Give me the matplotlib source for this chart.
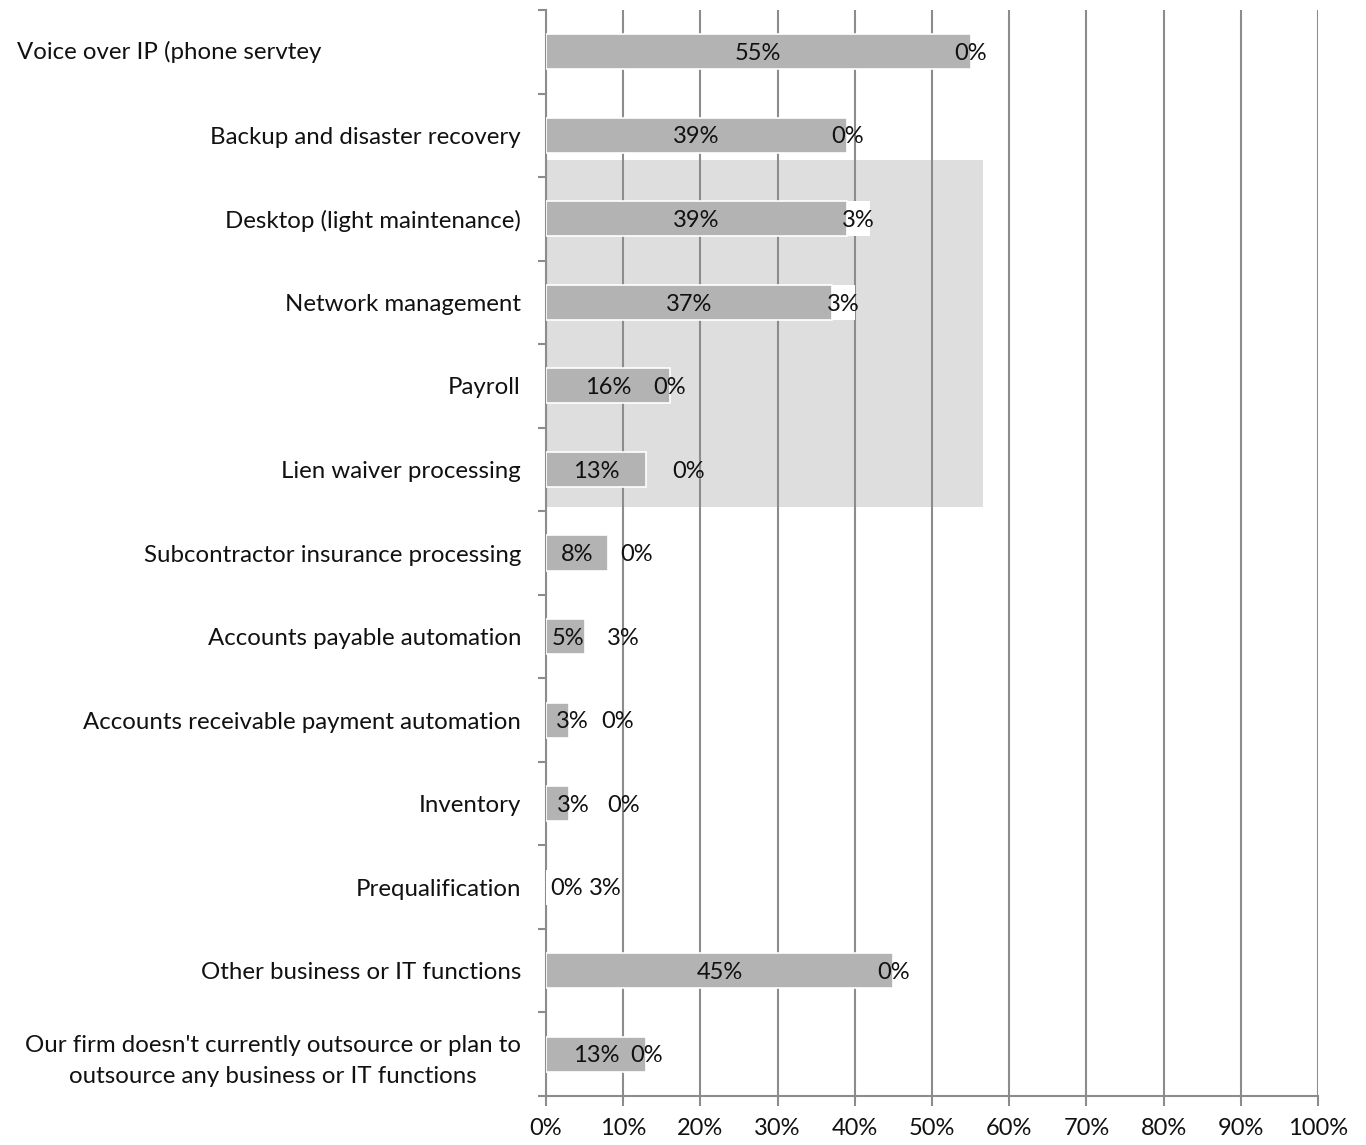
import matplotlib
matplotlib.use("Agg")
import matplotlib.pyplot as plt
from matplotlib.patches import Rectangle
import numpy as np

categories = [
    "Voice over IP (phone servtey",
    "Backup and disaster recovery",
    "Desktop (light maintenance)",
    "Network management",
    "Payroll",
    "Lien waiver processing",
    "Subcontractor insurance processing",
    "Accounts payable automation",
    "Accounts receivable payment automation",
    "Inventory",
    "Prequalification",
    "Other business or IT functions",
    "Our firm doesn't currently outsource or plan to\noutsource any business or IT functions",
]
outsourced = [55, 39, 39, 37, 16, 13, 8, 5, 3, 3, 0, 45, 13]
plan_to = [0, 0, 3, 3, 0, 0, 0, 3, 0, 0, 3, 0, 0]
xtick_values = list(range(0, 101, 10))
xtick_labels = [f"{v}%" for v in xtick_values]

# label nudges (in % units), as placed in the original
nudge2 = [0, 0, 0, 0, 0, 5.5, 3.7, 3.5, 6.3, 7.0, 6.2, 0, 0]
nudge1 = [0, 0, 0, 0, 0, 0, 0, 0.4, 1.9, 2.0, 2.7, 0, 0]

FONT = "Lato"
plt.rcParams["font.family"] = [FONT, "DejaVu Sans"]

fig = plt.figure(figsize=(13.66, 11.45), dpi=100)
ax = fig.add_axes([546/1366, 1 - 1096/1145, (1318 - 546)/1366, (1096 - 10)/1145])

n = len(categories)
y = np.arange(n)
bar_h = 0.42
grid_c = "#8c8c8c"
txt_c = "#111111"

ax.set_xlim(0, 100)
ax.set_ylim(n - 0.5, -0.5)

# light gray background panel seen in the original
ax.add_patch(Rectangle((0, 1.3), 56.6, 4.15, facecolor="#dedede", edgecolor="none", zorder=0.5))

ax.set_xticks(xtick_values)
ax.set_xticklabels(xtick_labels)
ax.xaxis.grid(True, color=grid_c, linewidth=1.5, zorder=1)
ax.set_axisbelow(True)

ax.barh(y, outsourced, height=bar_h, color="#b3b3b3", edgecolor="white", linewidth=1.2, zorder=3)
ax.barh(y, plan_to, left=outsourced, height=bar_h, color="white", edgecolor="none", zorder=3)

lab_fs = 17
cat_fs = 17.3
for i in range(n):
    x1 = outsourced[i] / 2 + nudge1[i]
    ax.text(x1, y[i] + 0.02, f"{outsourced[i]}%", ha="center", va="center", fontsize=lab_fs, color=txt_c, zorder=5)
    x2 = outsourced[i] + plan_to[i] / 2 + nudge2[i]
    ax.text(x2, y[i] + 0.02, f"{plan_to[i]}%", ha="center", va="center", fontsize=lab_fs, color=txt_c, zorder=5)

# y axis: category labels at centers, ticks at boundaries
ax.set_yticks(y)
ylabels = [""] + categories[1:]
ax.set_yticklabels(ylabels, fontsize=cat_fs, multialignment="center", linespacing=1.55)
ax.tick_params(axis="y", length=0, pad=18)
ax.set_yticks(np.arange(-0.5, n, 1), minor=True)
ax.tick_params(axis="y", which="minor", length=6, color=grid_c, width=1.5)
fig.text(17/1366, 1 - 52/1145, categories[0], ha="left", va="center", fontsize=cat_fs, color=txt_c)

ax.tick_params(axis="x", length=7, color=grid_c, width=1.5, labelsize=lab_fs, pad=9)
for lab in ax.get_xticklabels() + ax.get_yticklabels():
    lab.set_color(txt_c)

for s in ["top", "right"]:
    ax.spines[s].set_visible(False)
for s in ["left", "bottom"]:
    ax.spines[s].set_color(grid_c)
    ax.spines[s].set_linewidth(1.5)

fig.savefig("out.png", dpi=100, facecolor="white")
